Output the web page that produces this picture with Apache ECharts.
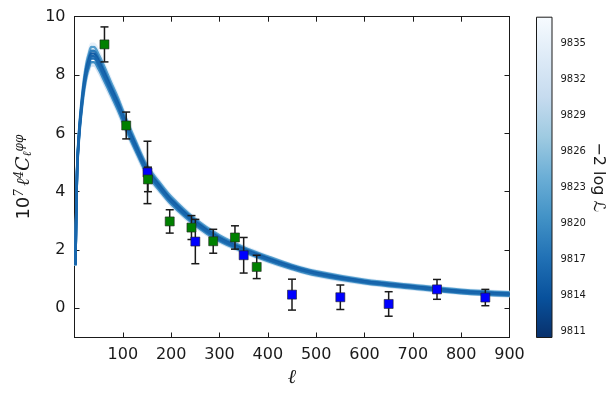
<!DOCTYPE html>
<html>
<head>
<meta charset="utf-8">
<script src="https://cdn.jsdelivr.net/npm/echarts@6/dist/echarts.min.js"></script>
<style>
  html, body { margin: 0; padding: 0; background: #fff; }
  #chart { width: 616px; height: 393px; }
</style>
</head>
<body>
<div id="chart"></div>
<script>
// multipole grid for the theory curves
const ells = [2, 4, 6, 10, 15, 20, 25, 30, 35, 40, 50, 60, 75, 90, 107, 125, 150, 175, 200, 250, 300, 350, 400, 450, 500, 600, 700, 800, 900]

// -2 log L of each curve (lightest drawn first)
const chi2 = [9835, 9832, 9822, 9820, 9818, 9817, 9815, 9816]

const curve1 = [1.55, 3.7, 5.15, 6.3, 7.25, 8.0, 8.53, 8.85, 9.07, 9.07, 8.81, 8.45, 7.87, 7.3, 6.57, 5.87, 4.97, 4.4, 3.88, 3.11, 2.54, 2.14, 1.81, 1.52, 1.3, 1.01, 0.83, 0.66, 0.57]
const curve2 = [1.45, 3.5, 4.85, 5.9, 6.75, 7.4, 7.87, 8.15, 8.33, 8.33, 8.09, 7.75, 7.23, 6.7, 6.03, 5.37, 4.53, 4.0, 3.52, 2.79, 2.26, 1.9, 1.59, 1.32, 1.1, 0.83, 0.65, 0.5, 0.41]
const curve3 = [1.54, 3.67, 5.11, 6.24, 7.18, 7.91, 8.43, 8.75, 8.96, 8.96, 8.7, 8.35, 7.77, 7.21, 6.49, 5.8, 4.9, 4.34, 3.83, 3.06, 2.5, 2.1, 1.78, 1.49, 1.27, 0.98, 0.8, 0.64, 0.55]
const curve4 = [1.47, 3.53, 4.9, 5.96, 6.83, 7.49, 7.97, 8.26, 8.44, 8.44, 8.2, 7.86, 7.33, 6.79, 6.11, 5.45, 4.6, 4.06, 3.57, 2.84, 2.3, 1.94, 1.62, 1.35, 1.13, 0.86, 0.68, 0.52, 0.43]
const curve5 = [1.52, 3.64, 5.05, 6.17, 7.09, 7.81, 8.32, 8.62, 8.83, 8.83, 8.58, 8.22, 7.66, 7.11, 6.4, 5.71, 4.83, 4.27, 3.76, 3.01, 2.45, 2.06, 1.74, 1.46, 1.24, 0.95, 0.77, 0.61, 0.52]
const curve6 = [1.48, 3.57, 4.95, 6.03, 6.91, 7.6, 8.08, 8.38, 8.57, 8.57, 8.32, 7.98, 7.44, 6.9, 6.21, 5.53, 4.67, 4.13, 3.64, 2.89, 2.35, 1.98, 1.66, 1.39, 1.17, 0.89, 0.71, 0.55, 0.46]
const curve7 = [1.5, 3.61, 5.02, 6.12, 7.03, 7.73, 8.23, 8.54, 8.74, 8.74, 8.49, 8.14, 7.58, 7.03, 6.33, 5.65, 4.77, 4.22, 3.72, 2.97, 2.41, 2.03, 1.71, 1.43, 1.21, 0.93, 0.75, 0.59, 0.5]
const curve8 = [1.49, 3.59, 4.98, 6.07, 6.96, 7.66, 8.15, 8.45, 8.64, 8.64, 8.4, 8.05, 7.5, 6.96, 6.26, 5.58, 4.72, 4.17, 3.67, 2.93, 2.38, 2.0, 1.68, 1.41, 1.19, 0.91, 0.73, 0.57, 0.48]
const curves = [curve1, curve2, curve3, curve4, curve5, curve6, curve7, curve8]

// bandpowers
const greenL = [62, 107, 152, 197, 242, 287, 332, 377]
const greenV = [9.05, 6.27, 4.42, 2.98, 2.77, 2.3, 2.43, 1.42]
const greenErr = [0.6, 0.46, 0.42, 0.4, 0.41, 0.41, 0.4, 0.4]
const blueL = [151, 250, 350, 450, 550, 650, 750, 850]
const blueV = [4.66, 2.29, 1.82, 0.47, 0.38, 0.15, 0.65, 0.37]
const blueErr = [1.07, 0.76, 0.61, 0.53, 0.42, 0.42, 0.34, 0.28]

const yTicks = [0, 2, 4, 6, 8, 10]
const cbTicks = [9811, 9814, 9817, 9820, 9823, 9826, 9829, 9832, 9835]
const cbMin = 9810.5
const cbMax = 9837.2

// matplotlib Blues
const blues = ['#f7fbff', '#deebf7', '#c6dbef', '#9ecae1', '#6baed6', '#4292c6', '#2171b5', '#08519c', '#08306b']

const hexRgb = h => [1, 3, 5].map(i => parseInt(h.slice(i, i + 2), 16))
const bluesAt = (t) => {
  const p = Math.max(0, Math.min(1, t)) * 8
  const i = Math.min(7, Math.floor(p))
  const f = p - i
  const a = hexRgb(blues[i]), b = hexRgb(blues[i + 1])
  const c = a.map((v, k) => Math.round(v + (b[k] - v) * f))
  return `rgb(${c[0]},${c[1]},${c[2]})`
}
const chi2Color = v => bluesAt(1 - (v - cbMin) / (cbMax - cbMin))

const font = 'DejaVu Sans'
const ink = '#1a1a1a'

const errorSeries = (ls, vs, es) => ({
  type: 'custom',
  xAxisIndex: 0,
  yAxisIndex: 0,
  z: 5,
  data: ls.map((l, i) => [l, vs[i] - es[i], vs[i] + es[i]]),
  encode: { x: 0, y: [1, 2] },
  renderItem: (params, api) => {
    const lo = api.coord([api.value(0), api.value(1)])
    const hi = api.coord([api.value(0), api.value(2)])
    const w = 4
    const style = { stroke: ink, lineWidth: 1.5 }
    return {
      type: 'group',
      children: [
        { type: 'line', shape: { x1: lo[0], y1: lo[1], x2: hi[0], y2: hi[1] }, style },
        { type: 'line', shape: { x1: lo[0] - w, y1: lo[1], x2: lo[0] + w, y2: lo[1] }, style },
        { type: 'line', shape: { x1: hi[0] - w, y1: hi[1], x2: hi[0] + w, y2: hi[1] }, style }
      ]
    }
  }
})

const pointSeries = (ls, vs, color) => ({
  type: 'scatter',
  xAxisIndex: 0,
  yAxisIndex: 0,
  z: 6,
  symbol: 'rect',
  symbolSize: 9,
  data: ls.map((l, i) => [l, vs[i]]),
  itemStyle: { color, borderColor: '#222', borderWidth: 0.6, opacity: 1 }
})

const curveSeries = curves.map((c, k) => ({
  type: 'line',
  xAxisIndex: 0,
  yAxisIndex: 0,
  z: 2,
  smooth: 0.35,
  showSymbol: false,
  silent: true,
  data: ells.map((l, i) => [l, c[i]]),
  lineStyle: { color: chi2Color(chi2[k]), width: 2.5 }
}))

const frameAxis = {
  axisLine: { show: true, onZero: false, lineStyle: { color: ink, width: 1 } },
  splitLine: { show: false }
}

const chart = echarts.init(document.getElementById('chart'), null, { renderer: 'canvas' })

const option = {
  animation: false,
  backgroundColor: '#fff',
  grid: [
    { left: 74.5, right: 106.5, top: 16.7, bottom: 55.5 },
    { left: 536, width: 16.5, top: 16.7, bottom: 55.5 }
  ],
  xAxis: [
    {
      type: 'value', gridIndex: 0, min: 0, max: 900, interval: 100,
      ...frameAxis,
      axisTick: { inside: true, length: 5, lineStyle: { color: ink } },
      axisLabel: {
        color: ink, fontFamily: font, fontSize: 16, margin: 9,
        formatter: v => (v === 0 ? '' : String(v))
      },
      name: 'ℓ',
      nameLocation: 'middle',
      nameGap: 30,
      nameTextStyle: { fontFamily: 'DejaVu Serif', fontStyle: 'italic', fontSize: 20, color: ink }
    },
    {
      type: 'value', gridIndex: 0, position: 'top', min: 0, max: 900, interval: 100,
      ...frameAxis,
      axisTick: { inside: true, length: 5, lineStyle: { color: ink } },
      axisLabel: { show: false }
    },
    {
      type: 'category', gridIndex: 1, data: ['cb'],
      show: false
    }
  ],
  yAxis: [
    {
      type: 'value', gridIndex: 0, min: -1, max: 10,
      ...frameAxis,
      axisTick: { inside: true, length: 5, customValues: yTicks, lineStyle: { color: ink } },
      axisLabel: { customValues: yTicks, color: ink, fontFamily: font, fontSize: 16, margin: 9 },
      name: '{a|10}{s|7}{b|ℓ}{s|4}{c|C}{d|ℓ}{s|φφ}',
      nameLocation: 'middle',
      nameRotate: 90,
      nameGap: 34,
      nameTextStyle: {
        color: ink,
        rich: {
          a: { fontFamily: font, fontSize: 18, color: ink },
          b: { fontFamily: 'DejaVu Serif', fontStyle: 'italic', fontSize: 18, color: ink, padding: [0, 0, 0, 3] },
          c: { fontFamily: 'DejaVu Serif', fontStyle: 'italic', fontSize: 19, color: ink },
          s: { fontFamily: 'DejaVu Serif', fontStyle: 'italic', fontSize: 12, color: ink, verticalAlign: 'top', padding: [0, 0, 8, 0] },
          d: { fontFamily: 'DejaVu Serif', fontStyle: 'italic', fontSize: 12, color: ink, verticalAlign: 'bottom', padding: [6, 0, 0, 0] }
        }
      }
    },
    {
      type: 'value', gridIndex: 0, position: 'right', min: -1, max: 10,
      ...frameAxis,
      axisTick: { inside: true, length: 5, customValues: yTicks, lineStyle: { color: ink } },
      axisLabel: { show: false }
    },
    {
      type: 'value', gridIndex: 1, position: 'right', min: cbMin, max: cbMax,
      axisLine: { show: false },
      splitLine: { show: false },
      axisTick: { inside: true, length: 4, customValues: cbTicks, lineStyle: { color: ink } },
      axisLabel: {
        customValues: cbTicks, color: ink, fontFamily: font, fontSize: 10, margin: 8,
        formatter: v => String(v)
      },
      name: '−2 log ℒ',
      nameLocation: 'middle',
      nameRotate: -90,
      nameGap: 36,
      nameTextStyle: { fontFamily: font, fontSize: 16, color: ink }
    }
  ],
  series: [
    ...curveSeries,
    errorSeries(blueL, blueV, blueErr),
    errorSeries(greenL, greenV, greenErr),
    pointSeries(blueL, blueV, '#0000ff'),
    pointSeries(greenL, greenV, '#008000'),
    {
      type: 'bar',
      xAxisIndex: 2,
      yAxisIndex: 2,
      barWidth: '100%',
      silent: true,
      data: [cbMax],
      itemStyle: {
        color: new echarts.graphic.LinearGradient(0, 0, 0, 1,
          blues.map((c, i) => ({ offset: i / 8, color: c }))),
        borderColor: ink,
        borderWidth: 1
      }
    }
  ]
}

chart.setOption(option)
</script>
</body>
</html>
